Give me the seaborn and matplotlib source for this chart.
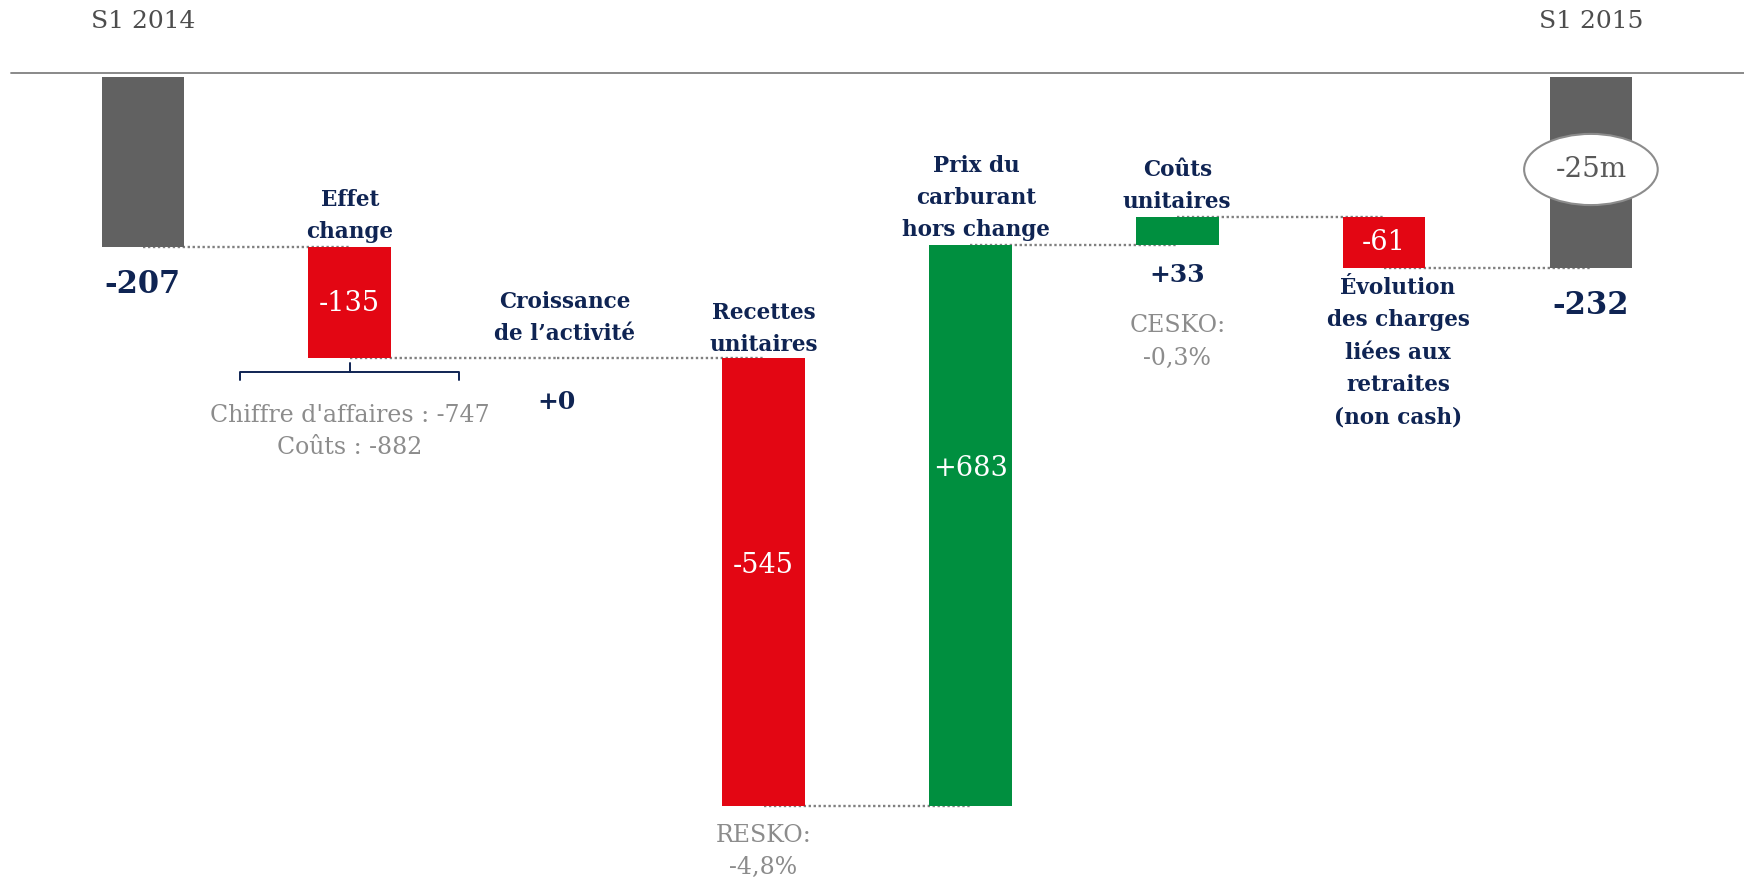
import numpy as np
import pandas as pd
import seaborn as sns
import matplotlib.pyplot as plt
from matplotlib.transforms import ScaledTranslation

# waterfall S1 2014 -> S1 2015 (m EUR)
categories = ['S1 2014', 'Effet\nchange', 'Croissance\nde l’activité', 'Recettes\nunitaires',
              'Prix du\ncarburant\nhors change', 'Coûts\nunitaires',
              'Évolution\ndes charges\nliées aux\nretraites\n(non cash)', 'S1 2015']
deltas = [-207, -135, 0, -545, 683, 33, -61, -232]
is_total = [True, False, False, False, False, False, False, True]
notes = {1: "Chiffre d'affaires : -747\nCoûts : -882",
         3: 'RESKO:\n-4,8%',
         5: 'CESKO:\n-0,3%'}

NAVY = '#0F2453'
RED = '#E30613'
GREEN = '#008F3F'
DARKGREY = '#616161'
LIGHTGREY = '#8C8C8C'

# running levels
starts, ends = [], []
level = 0
for d, tot in zip(deltas, is_total):
    if tot:
        starts.append(0)
        ends.append(d)
        level = d
    else:
        starts.append(level)
        level += d
        ends.append(level)
starts = np.array(starts)
ends = np.array(ends)

colors = []
for d, tot in zip(deltas, is_total):
    if tot:
        colors.append(DARKGREY)
    elif d < 0:
        colors.append(RED)
    else:
        colors.append(GREEN)

df = pd.DataFrame({'categorie': categories, 'hauteur': ends - starts})

sns.set_theme(style='white')
plt.rcParams['font.family'] = ['DejaVu Serif']

fig = plt.figure(figsize=(17.44, 8.8), dpi=100)
ax = fig.add_axes([0, 0, 1, 1])

sns.barplot(data=df, x='categorie', y='hauteur', order=categories, bottom=starts,
            color=DARKGREY, saturation=1, width=0.4, errorbar=None, ax=ax,
            zorder=2, linewidth=0)
for patch, c in zip(ax.patches, colors):
    patch.set_facecolor(c)
    patch.set_edgecolor('none')

# dotted connectors
for i in range(len(categories) - 1):
    ax.plot([i, i + 1], [ends[i], ends[i]], ls=(0, (1, 1.1)), color='#808080',
            lw=1.7, zorder=1)

# top rule
rule = ax.axhline(0, xmin=11 / 1744, xmax=1, color='#808080', lw=1.3)
rule.set_transform(rule.get_transform() + ScaledTranslation(0, 0.04, fig.dpi_scale_trans))

# period headers
for i in [0, len(categories) - 1]:
    ax.annotate(categories[i], xy=(i, 0), xytext=(0, 40), textcoords='offset points',
                ha='center', va='center', fontsize=18, color='#4D4D4D')

# category labels (bold navy)
label_pos = {1: ('above', 0, 3), 2: ('above', 6, 9), 3: ('above', 0, 1.5),
             4: ('above', 4, 2.5), 5: ('above', 0, 3), 6: ('below', 10, -7)}
for i, (where, dx, dy) in label_pos.items():
    if where == 'above':
        y = max(starts[i], ends[i])
        va = 'bottom'
    else:
        y = min(starts[i], ends[i])
        va = 'top'
    ax.annotate(categories[i], xy=(i, y), xytext=(dx, dy), textcoords='offset points',
                ha='center', va=va, fontsize=15.5, fontweight='bold', color=NAVY,
                linespacing=1.6)

# value labels
for i, d in enumerate(deltas):
    txt = f'{d:+d}'
    mid = (starts[i] + ends[i]) / 2
    if is_total[i]:
        ax.annotate(txt, xy=(i, ends[i]), xytext=(0, -27), textcoords='offset points',
                    ha='center', va='center', fontsize=22, fontweight='bold', color=NAVY)
    elif i in (2, 5):
        ax.annotate(txt, xy=(i, min(starts[i], ends[i])), xytext=(0, -32 if i == 2 else -22),
                    textcoords='offset points', ha='center', va='center',
                    fontsize=18, fontweight='bold', color=NAVY)
    else:
        shift = {1: -1, 3: 12, 4: 41, 6: 0}[i]
        ax.annotate(txt, xy=(i, mid), xytext=(0, shift), textcoords='offset points',
                    ha='center', va='center', fontsize=19.5, color='white', zorder=5)

# grey notes
note_shift = {1: -53, 3: -33, 5: -70}
for i, txt in notes.items():
    ax.annotate(txt, xy=(i, min(starts[i], ends[i])), xytext=(0, note_shift[i]),
                textcoords='offset points', ha='center', va='center', fontsize=17,
                color=LIGHTGREY, linespacing=1.55)

# brace under "Effet change"
b = ends[1]
bx = [1 - 0.53, 1 - 0.53, 1 + 0.53, 1 + 0.53]
by = [b - 27, b - 17, b - 17, b - 27]
ax.plot(bx, by, color=NAVY, lw=1.4, zorder=3, solid_joinstyle='round')
ax.plot([1, 1], [b - 17, b - 6], color=NAVY, lw=1.4, zorder=3)

# gap between the two periods
ecart = deltas[-1] - deltas[0]
ax.annotate(f'{ecart:+d}m', xy=(len(categories) - 1, ends[-1] / 2), xytext=(0, 2),
            textcoords='offset points', ha='center', va='center', fontsize=20,
            color='#595959', zorder=6,
            bbox=dict(boxstyle='ellipse,pad=0.42', fc='white', ec=LIGHTGREY, lw=1.5))

ax.set_xlim(-0.691, 7.74)
ax.set_ylim(-977.5, 93.7)
ax.axis('off')

fig.savefig('out.png', dpi=100)
